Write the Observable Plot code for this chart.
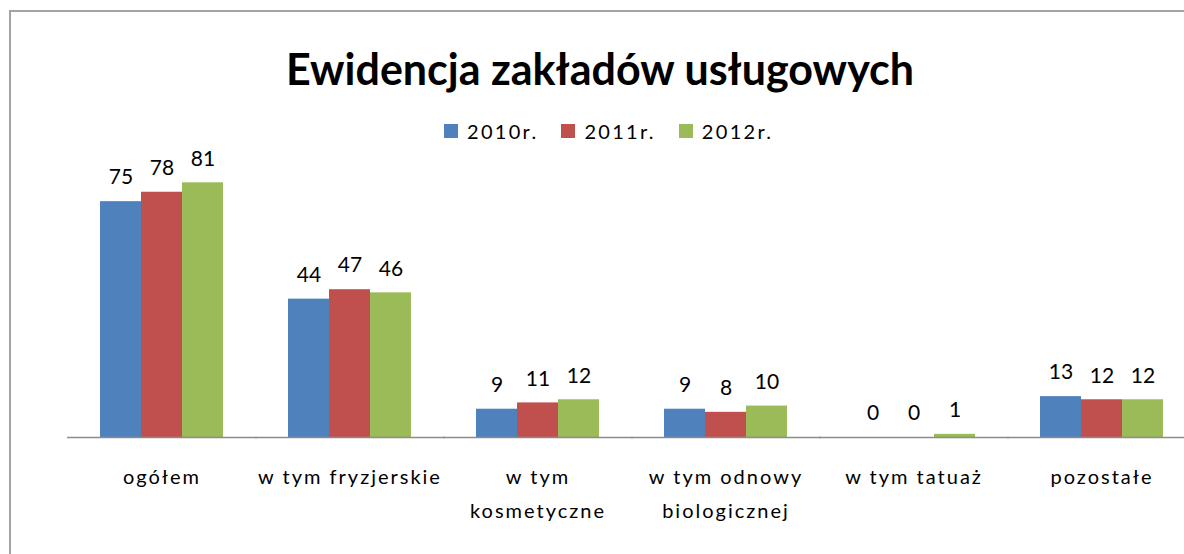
<!DOCTYPE html>
<html>
<head>
<meta charset="utf-8">
<script src="https://cdn.jsdelivr.net/npm/d3@7"></script>
<script src="https://cdn.jsdelivr.net/npm/@observablehq/plot@0.6"></script>
<style>
  html, body { margin: 0; padding: 0; background: #fff; overflow: hidden; width: 1184px; height: 554px; }
  #frame { position: absolute; left: 9px; top: 10px; width: 1300px; height: 700px; border: 2px solid #a3a3a3; box-sizing: border-box; }
  #title { position: absolute; left: 0; top: 41px; width: 1200px; text-align: center; font-family: Lato, sans-serif; font-weight: bold; font-size: 43px; line-height: 56px; color: #000; }
  #legend { position: absolute; left: 444px; top: 120px; display: flex; align-items: center; font-family: Lato, sans-serif; font-size: 20px; color: #000; letter-spacing: 2.3px; line-height: 22px; }
  .sw { width: 14px; height: 14px; margin-right: 9px; }
  .item { display: flex; align-items: center; margin-right: 23px; }
  #chart { position: absolute; left: 0; top: 150px; width: 1200px; }
  #chart svg { max-width: none !important; width: 1200px; height: 404px; }
  #chart [aria-label="fx-axis tick label"] text { letter-spacing: 2px; }
</style>
</head>
<body>
<div id="frame"></div>
<div id="title">Ewidencja zakładów usługowych</div>
<div id="legend"></div>
<div id="chart"></div>
<script>
const categories = ["ogółem", "w tym fryzjerskie", "w tym\nkosmetyczne", "w tym odnowy\nbiologicznej", "w tym tatuaż", "pozostałe"];
const series = ["2010r.", "2011r.", "2012r."];
const values2010 = [75, 44, 9, 9, 0, 13];
const values2011 = [78, 47, 11, 8, 0, 12];
const values2012 = [81, 46, 12, 10, 1, 12];
const colors = ["#4F81BD", "#C0504D", "#9BBB59"];

const seriesValues = [values2010, values2011, values2012];
const data = [];
categories.forEach((c, i) => series.forEach((s, j) => data.push({cat: c, series: s, value: seriesValues[j][i]})));

const legend = document.getElementById("legend");
series.forEach((s, j) => {
  const item = document.createElement("div");
  item.className = "item";
  const sw = document.createElement("div");
  sw.className = "sw";
  sw.style.background = colors[j];
  const t = document.createElement("span");
  t.textContent = s;
  item.appendChild(sw); item.appendChild(t);
  legend.appendChild(item);
});

const chart = Plot.plot({
  width: 1200,
  height: 404,
  marginTop: 4,
  marginBottom: 117,
  marginLeft: 66,
  marginRight: 4,
  style: {fontFamily: "Lato, sans-serif", background: "transparent", overflow: "visible", maxWidth: "none"},
  fx: {domain: categories, paddingInner: 0.336, paddingOuter: 0.168, label: null},
  x: {domain: series, padding: 0, axis: null},
  y: {domain: [0, 90], axis: null},
  color: {domain: series, range: colors},
  marks: [
    Plot.barY(data, {fx: "cat", x: "series", y: "value", fill: "series"}),
    Plot.text(data, {fx: "cat", x: "series", y: "value", text: d => String(d.value), dy: -24, fontSize: 21, fill: "#000", style: "letter-spacing:1px"}),
    Plot.frame({anchor: "bottom", stroke: "#8c8c8c", strokeWidth: 1.5, insetLeft: -31.7, insetRight: -31.7}),
    Plot.axisFx({anchor: "bottom", tickSize: 0, tickPadding: 22, fontSize: 20, lineHeight: 1.7, fill: "#000", label: null})
  ]
});
document.getElementById("chart").appendChild(chart);
</script>
</body>
</html>
